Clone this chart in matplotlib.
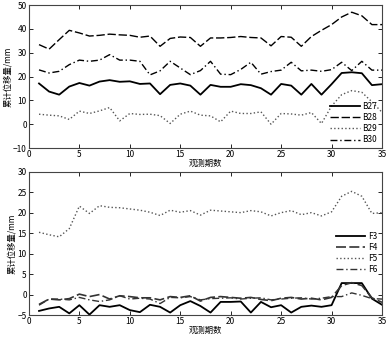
import numpy as np
import matplotlib
matplotlib.use("Agg")
import matplotlib.pyplot as plt

plt.rcParams['font.family'] = ['Noto Sans CJK SC', 'DejaVu Sans']

# observation periods
periods = list(range(1, 36))

# top chart: B27 - B30
b27 = [17.1, 13.7, 12.4, 15.8, 17.3, 16.2, 17.9, 18.5, 17.8, 18.0, 16.9, 17.1, 12.6, 16.5, 17.1, 16.2, 12.4, 16.5,
       15.7, 15.7, 16.8, 16.4, 15.1, 12.4, 16.9, 16.2, 12.4, 16.9, 12.4, 16.8, 21.5, 21.8, 21.4, 16.4, 16.8]
b28 = [33.4, 31.5, 35.5, 39.4, 38.3, 37.0, 37.3, 37.8, 37.5, 37.3, 36.5, 37.0, 32.7, 36.0, 36.6, 36.4, 32.7, 36.2,
       36.2, 36.4, 36.8, 36.4, 36.2, 32.9, 36.8, 36.5, 32.7, 36.8, 39.4, 41.8, 45.0, 47.0, 45.5, 41.8, 41.8]
b29 = [4.2, 3.8, 3.5, 2.0, 5.5, 4.5, 5.6, 7.0, 1.4, 4.5, 4.1, 4.2, 3.6, 0.3, 4.2, 5.5, 3.8, 3.5,
       1.0, 5.5, 4.5, 4.5, 5.2, 0.0, 4.5, 4.3, 3.8, 4.9, 0.3, 7.6, 12.4, 14.1, 13.4, 9.4, 5.0]
b30 = [22.8, 21.5, 22.2, 25.0, 26.9, 26.4, 26.9, 29.2, 26.9, 26.9, 26.4, 20.7, 22.4, 26.4, 23.6, 20.8, 22.5, 26.4,
       21.0, 20.8, 23.0, 26.0, 21.0, 22.1, 22.7, 26.0, 22.4, 22.7, 22.2, 22.9, 26.0, 22.5, 26.4, 22.7, 22.7]

# bottom chart: F3 - F6
f3 = [-4.0, -3.4, -3.0, -4.6, -2.6, -4.9, -2.6, -3.0, -2.6, -3.8, -4.3, -2.5, -3.0, -4.4, -2.6, -1.6, -2.8, -4.4,
      -1.8, -1.8, -1.7, -4.4, -1.8, -3.1, -2.6, -4.4, -3.0, -2.7, -3.0, -2.6, 2.8, 2.8, 2.8, -1.0, -2.5]
f4 = [-2.4, -1.1, -1.3, -1.0, 0.1, -0.5, 0.0, -1.1, -0.3, -0.5, -0.8, -0.8, -1.3, -0.5, -0.7, -0.3, -1.6, -0.7,
      -0.5, -0.7, -0.9, -0.7, -1.2, -1.5, -0.9, -0.7, -1.1, -0.9, -1.3, -0.7, 2.2, 2.9, 2.2, -0.8, -1.9]
f5 = [15.2, 14.6, 14.1, 16.1, 21.6, 19.8, 21.7, 21.3, 21.2, 20.9, 20.6, 20.1, 19.3, 20.6, 20.1, 20.5, 19.4, 20.6,
      20.4, 20.2, 20.0, 20.5, 20.2, 19.2, 20.0, 20.5, 19.5, 20.0, 19.2, 20.2, 24.0, 25.2, 24.0, 19.8, 20.0]
f6 = [-2.6, -1.1, -1.1, -1.3, -0.7, -1.3, -1.7, -1.3, -0.3, -1.1, -0.9, -1.1, -2.2, -0.7, -0.8, -0.5, -1.3, -1.0,
      -0.9, -0.8, -1.1, -0.9, -0.8, -1.3, -1.1, -0.9, -0.8, -1.1, -0.9, -0.5, -0.5, 0.4, -0.2, -1.0, -1.1]

fig = plt.figure(figsize=(3.91, 3.38), dpi=100)
ax1 = fig.add_axes([0.074, 0.562, 0.903, 0.423])
ax2 = fig.add_axes([0.074, 0.068, 0.903, 0.424])

ax1.plot(periods, b27, color='black', linestyle='-', linewidth=1.3, label='B27')
ax1.plot(periods, b28, color='black', linestyle=(0, (6, 2)), linewidth=1.0, label='B28')
ax1.plot(periods, b29, color='#555555', linestyle=':', linewidth=1.0, label='B29')
ax1.plot(periods, b30, color='black', linestyle=(0, (5, 2, 1, 2)), linewidth=1.0, label='B30')
ax1.set_ylim(-10, 50)
ax1.set_yticks([-10, 0, 10, 20, 30, 40, 50])

ax2.plot(periods, f3, color='black', linestyle='-', linewidth=1.3, label='F3')
ax2.plot(periods, f4, color='#333333', linestyle=(0, (6, 2)), linewidth=1.2, label='F4')
ax2.plot(periods, f5, color='#555555', linestyle=':', linewidth=1.0, label='F5')
ax2.plot(periods, f6, color='#333333', linestyle=(0, (5, 2, 1, 2)), linewidth=1.0, label='F6')
ax2.set_ylim(-5, 30)
ax2.set_yticks([-5, 0, 5, 10, 15, 20, 25, 30])

# common MATLAB-like styling for both charts
for ax in [ax1, ax2]:
    ax.set_xlim(0, 35)
    ax.set_xticks([0, 5, 10, 15, 20, 25, 30, 35])
    ax.tick_params(direction='in', top=True, right=True, labelsize=6, length=3, width=0.6, pad=1.5)
    for s in ax.spines.values():
        s.set_color('#444444')
        s.set_linewidth(0.8)
    ax.set_ylabel('累计位移量/mm', fontsize=6, labelpad=1)
    ax.set_xlabel('观测期数', fontsize=6, labelpad=0)

ax1.legend(loc='lower right', bbox_to_anchor=(1.0, -0.01), frameon=False, fontsize=6, handlelength=3.5,
           handletextpad=0.3, labelspacing=0.25, borderaxespad=0.2)
ax2.legend(loc='lower right', bbox_to_anchor=(1.0, 0.25), frameon=False, fontsize=6, handlelength=3.5,
           handletextpad=0.3, labelspacing=0.25, borderaxespad=0.2)

fig.savefig('out.png', dpi=100)
